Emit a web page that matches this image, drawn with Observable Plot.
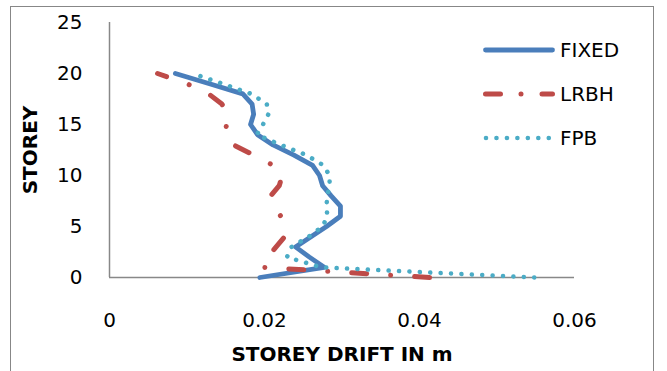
<!DOCTYPE html>
<html>
<head>
<meta charset="utf-8">
<script src="https://cdn.jsdelivr.net/npm/d3@7"></script>
<script src="https://cdn.jsdelivr.net/npm/@observablehq/plot@0.6"></script>
<style>
  html, body { margin: 0; padding: 0; background: #ffffff; }
  #wrap { position: relative; width: 667px; height: 371px; overflow: hidden; background: #ffffff; }
  #frame { position: absolute; left: 10px; top: 6px; width: 644px; height: 420px; border: 1.5px solid #878787; box-sizing: border-box; pointer-events: none; }
  #legend { position: absolute; left: 0; top: 0; }
</style>
</head>
<body>
<div id="wrap">
  <div id="chart"></div>
  <svg id="legend" width="667" height="371"></svg>
  <div id="frame"></div>
</div>
<script>
// ---- data ----
const storeys = [0, 1, 2, 3, 4, 5, 6, 7, 8, 9, 10, 11, 12, 13, 14, 15, 16, 17, 18, 19, 20];
const fixedDrift = [0.0194, 0.0277, 0.0258, 0.0240, 0.0260, 0.0280, 0.0298, 0.0298, 0.0286, 0.0275, 0.0271,
                    0.0262, 0.0238, 0.0211, 0.0191, 0.0182, 0.0186, 0.0184, 0.0172, 0.0129, 0.0085];
const lrbhDrift  = [0.0413, 0.0197, 0.0204, 0.0215, 0.0226, 0.0227, 0.0221, 0.0213, 0.0208, 0.0219, 0.0223,
                    0.0211, 0.0186, 0.0160, 0.0149, 0.0151, 0.0154, 0.0145, 0.0128, 0.0100, 0.0062];
const fpbDrift   = [0.0548, 0.0273, 0.0229, 0.0235, 0.0257, 0.0275, 0.0281, 0.0280, 0.0281, 0.0284, 0.0284,
                    0.0276, 0.0254, 0.0221, 0.0190, 0.0198, 0.0205, 0.0203, 0.0183, 0.0146, 0.0107];
const seriesNames = ["FIXED", "LRBH", "FPB"];
const xTicks = [0, 0.02, 0.04, 0.06];
const yTicks = [0, 5, 10, 15, 20, 25];
const xLabel = "STOREY DRIFT IN m";
const yLabel = "STOREY";

// ---- styles ----
const styles = {
  FIXED: {stroke: "#4A7EBB", strokeWidth: 4.8, dash: null, legendDash: null},
  LRBH:  {stroke: "#BE4B48", strokeWidth: 5, dash: "15,24,0.01,24", legendDash: "15,20.5,0.01,21"},
  FPB:   {stroke: "#4BACC6", strokeWidth: 4.6, dash: "0.01,10.4", legendDash: "0.01,10.45"}
};

const driftBySeries = {FIXED: fixedDrift, LRBH: lrbhDrift, FPB: fpbDrift};
const rows = seriesNames.flatMap(name =>
  storeys.map((s, i) => ({series: name, storey: s, drift: driftBySeries[name][i]})));

const FONT = "'DejaVu Sans', sans-serif";

const lineMarks = seriesNames.map(name => {
  const st = styles[name];
  return Plot.line(rows.filter(d => d.series === name), {
    x: "drift", y: "storey",
    stroke: st.stroke, strokeWidth: st.strokeWidth,
    strokeDasharray: st.dash || undefined,
    strokeLinecap: "round", strokeLinejoin: "round"
  });
});

const chart = Plot.plot({
  width: 667,
  height: 371,
  marginLeft: 109,
  marginRight: 93,
  marginTop: 22,
  marginBottom: 94,
  style: `font-family: ${FONT}; font-size: 20px; color: #000; background: transparent; overflow: visible;`,
  x: {domain: [0, 0.06], ticks: xTicks, tickFormat: d => d === 0 ? "0" : String(d), tickSize: 0, tickPadding: 35, label: null},
  y: {domain: [0, 25], ticks: yTicks, tickSize: 0, tickPadding: 27, label: null},
  marks: [
    Plot.ruleX([0], {stroke: "#888888", strokeWidth: 1.5}),
    Plot.ruleY([0], {stroke: "#888888", strokeWidth: 1.5}),
    ...lineMarks,
    Plot.text([xLabel], {text: d => d, frameAnchor: "bottom", textAnchor: "middle", dy: 77, fontWeight: "bold", fontSize: 20, lineAnchor: "middle", fill: "#000"}),
    Plot.text([yLabel], {text: d => d, frameAnchor: "left", textAnchor: "middle", dx: -79, rotate: -90, fontWeight: "bold", fontSize: 20, lineAnchor: "middle", fill: "#000"})
  ]
});
document.getElementById("chart").appendChild(chart);

// ---- legend ----
const legend = d3.select("#legend");
const legendX0 = 485.5, legendX1 = 552.5, legendTextX = 560, legendY0 = 50, legendStep = 44;
seriesNames.forEach((name, i) => {
  const st = styles[name];
  const y = legendY0 + i * legendStep;
  let x0 = legendX0, x1 = legendX1;
  if (name === "FPB") { x0 = 486; x1 = 549; }
  legend.append("line")
    .attr("x1", x0).attr("x2", x1).attr("y1", y).attr("y2", y)
    .attr("stroke", st.stroke).attr("stroke-width", st.strokeWidth)
    .attr("stroke-linecap", "round")
    .attr("stroke-dasharray", st.legendDash);
  legend.append("text")
    .attr("x", legendTextX).attr("y", y + 7.3)
    .attr("font-family", FONT).attr("font-size", 20).attr("fill", "#000")
    .text(name);
});
</script>
</body>
</html>
